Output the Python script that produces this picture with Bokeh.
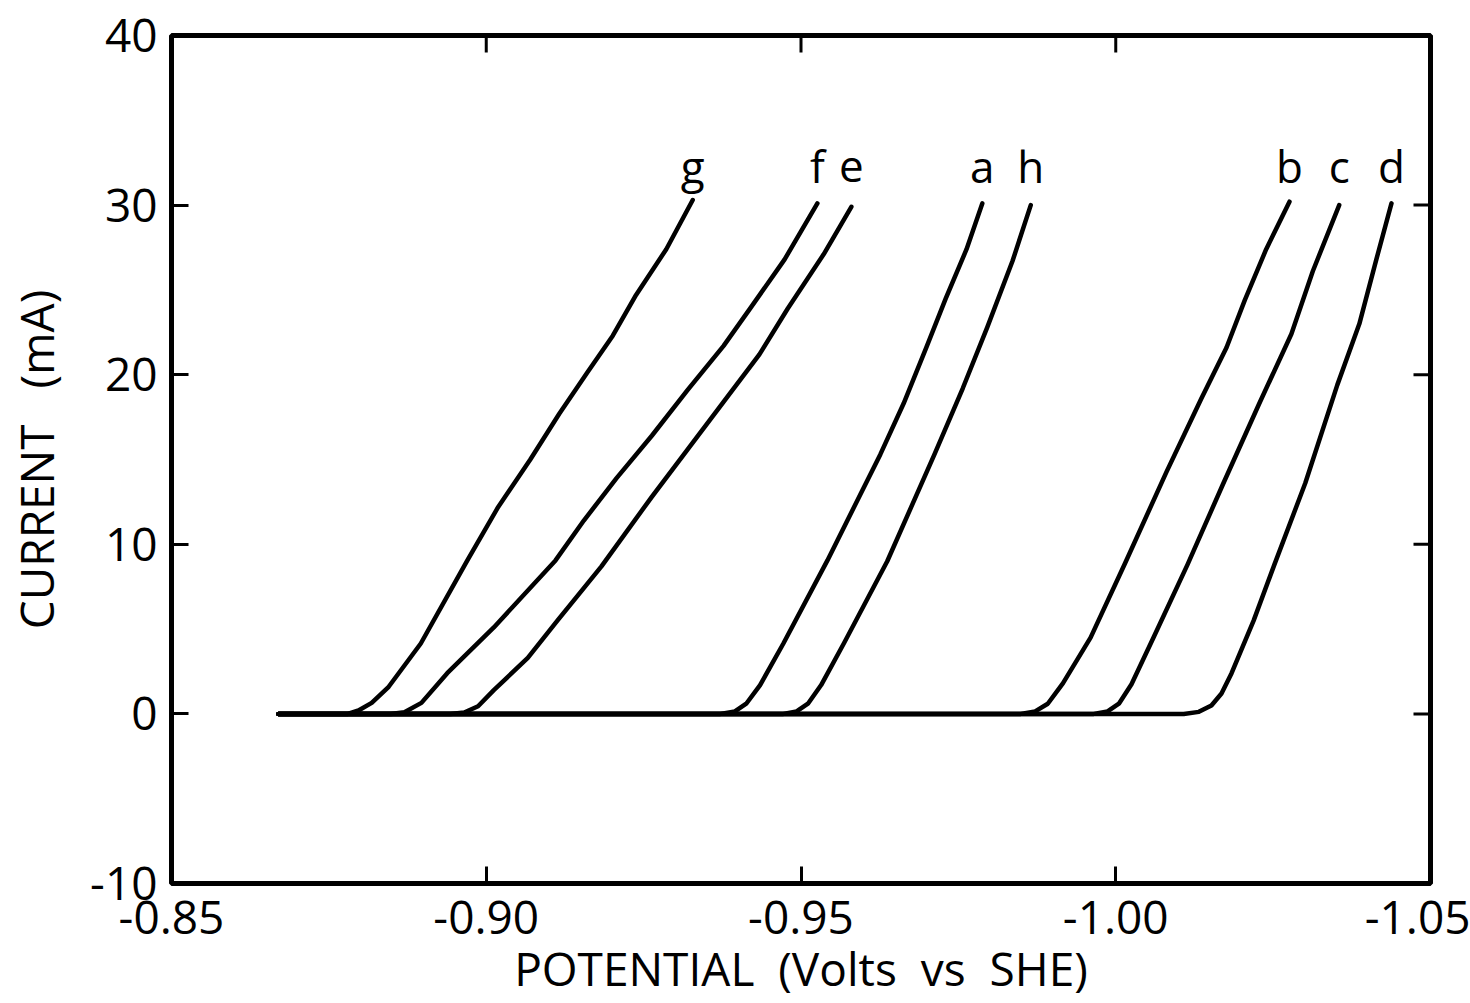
import math
from bokeh.plotting import figure
from bokeh.models import Range1d, FixedTicker, ColumnDataSource
from bokeh.core.properties import value
from bokeh.embed import file_html
from bokeh.resources import INLINE

# Cathodic polarization curves: potential (V vs SHE) and current (mA)
g_v = [-0.8670, -0.8780, -0.8797, -0.8818, -0.8845, -0.8896, -0.8970, -0.9019, -0.9070,
       -0.9116, -0.9160, -0.9201, -0.9238, -0.9286, -0.9328]
g_i = [0, 0, 0.2, 0.65, 1.6, 4.15, 9.05, 12.2, 15.0, 17.7, 20.1, 22.3, 24.7, 27.4, 30.3]

f_v = [-0.8670, -0.8848, -0.8870, -0.8897, -0.8938, -0.9012, -0.9110, -0.9155, -0.9207,
       -0.9263, -0.9320, -0.9377, -0.9421, -0.9474, -0.9526]
f_i = [0, 0, 0.1, 0.65, 2.4, 5.1, 9.05, 11.4, 13.9, 16.4, 19.1, 21.7, 24.0, 26.8, 30.1]

e_v = [-0.8670, -0.8943, -0.8965, -0.8987, -0.9012, -0.9066, -0.9113, -0.9183, -0.9263,
       -0.9320, -0.9377, -0.9434, -0.9479, -0.9536, -0.9580]
e_i = [0, 0, 0.08, 0.45, 1.4, 3.3, 5.5, 8.7, 12.8, 15.6, 18.4, 21.2, 23.9, 27.1, 29.9]

a_v = [-0.8670, -0.9372, -0.9395, -0.9413, -0.9435, -0.9472, -0.9542, -0.9626, -0.9663,
       -0.9699, -0.9730, -0.9763, -0.9788]
a_i = [0, 0, 0.15, 0.6, 1.7, 4.15, 9.05, 15.3, 18.3, 21.6, 24.5, 27.4, 30.1]

h_v = [-0.8670, -0.9472, -0.9493, -0.9511, -0.9532, -0.9568, -0.9637, -0.9712, -0.9757,
       -0.9796, -0.9836, -0.9865]
h_i = [0, 0, 0.15, 0.6, 1.7, 4.15, 9.0, 15.3, 19.2, 22.8, 26.7, 30.0]

b_v = [-0.8670, -0.9849, -0.9872, -0.9892, -0.9916, -0.9960, -1.0015, -1.0081, -1.0136,
       -1.0176, -1.0205, -1.0239, -1.0276]
b_i = [0, 0, 0.15, 0.6, 1.8, 4.5, 8.9, 14.3, 18.6, 21.6, 24.4, 27.4, 30.2]

c_v = [-0.8670, -0.9965, -0.9987, -1.0005, -1.0025, -1.0060, -1.0114, -1.0171, -1.0228,
       -1.0279, -1.0313, -1.0355]
c_i = [0, 0, 0.15, 0.6, 1.75, 4.5, 8.8, 13.6, 18.3, 22.4, 26.1, 30.0]

d_v = [-0.8670, -1.0108, -1.0132, -1.0152, -1.0168, -1.0184, -1.0219, -1.0252, -1.0301,
       -1.0352, -1.0387, -1.0414, -1.0438]
d_i = [0, 0, 0.12, 0.5, 1.2, 2.4, 5.5, 8.8, 13.6, 19.4, 23.0, 26.8, 30.1]

curve_names = ["g", "f", "e", "a", "h", "b", "c", "d"]
curves = {
    "g": (g_v, g_i), "f": (f_v, f_i), "e": (e_v, e_i), "a": (a_v, a_i),
    "h": (h_v, h_i), "b": (b_v, b_i), "c": (c_v, c_i), "d": (d_v, d_i),
}

x_ticks = [-0.85, -0.90, -0.95, -1.00, -1.05]
x_tick_labels = ["-0.85", "-0.90", "-0.95", "-1.00", "-1.05"]
y_ticks = [-10, 0, 10, 20, 30, 40]
y_tick_labels = ["-10", "0", "10", "20", "30", "40"]

FONT = "Open Sans"
INK = "black"
TICK_LEN = 17

p = figure(
    width=1470, height=1003,
    x_range=Range1d(-0.85, -1.05), y_range=Range1d(-10, 40),
    output_backend="svg", toolbar_location=None,
    x_axis_label="POTENTIAL\u00a0\u00a0(Volts\u00a0\u00a0vs\u00a0\u00a0SHE)",
    y_axis_label="CURRENT\u00a0\u00a0\u00a0(mA)",
    min_border_left=171, min_border_right=40,
    min_border_top=35, min_border_bottom=120,
)
p.grid.visible = False
p.background_fill_color = "white"
p.border_fill_color = "white"
p.outline_line_color = INK
p.outline_line_width = 5

def style_axis(ax, ticks, labels):
    ax.ticker = FixedTicker(ticks=ticks)
    ax.major_label_overrides = {t: l for t, l in zip(ticks, labels)}
    ax.major_tick_in = TICK_LEN
    ax.major_tick_out = 0
    ax.major_tick_line_width = 3
    ax.major_tick_line_color = INK
    ax.minor_tick_line_color = None
    ax.axis_line_color = None
    ax.major_label_text_font = FONT
    ax.major_label_text_color = INK
    ax.major_label_text_font_size = "46px"
    ax.axis_label_text_font = FONT
    ax.axis_label_text_font_size = "46px"
    ax.axis_label_text_font_style = "normal"
    ax.axis_label_text_color = INK

style_axis(p.xaxis[0], x_ticks, x_tick_labels)
style_axis(p.yaxis[0], y_ticks, y_tick_labels)
p.xaxis[0].major_label_standoff = 17
p.xaxis[0].axis_label_standoff = 0
p.yaxis[0].major_label_standoff = 14
p.yaxis[0].axis_label_standoff = 20

# inward ticks along the top and right edges of the frame
inner_x = x_ticks[1:-1]
inner_y = y_ticks[1:-1]
p.ray(x=inner_x, y=[y_ticks[-1]] * len(inner_x), length=TICK_LEN, length_units="screen",
      angle=-math.pi / 2, line_color=INK, line_width=3)
p.ray(x=[x_ticks[-1]] * len(inner_y), y=inner_y, length=TICK_LEN, length_units="screen",
      angle=math.pi, line_color=INK, line_width=3)

label_x, label_y = [], []
for name in curve_names:
    v, i = curves[name]
    p.line(v, i, line_color=INK, line_width=4.5, line_join="round", line_cap="round")
    label_x.append(v[-1])
    label_y.append(32.3)

src = ColumnDataSource(dict(x=label_x, y=label_y, t=curve_names))
p.text(x="x", y="y", text="t", source=src, text_font=value(FONT),
       text_font_size="44px", text_align="center", text_baseline="alphabetic",
       text_color=INK)

open("out.html", "w").write(file_html(p, INLINE))
